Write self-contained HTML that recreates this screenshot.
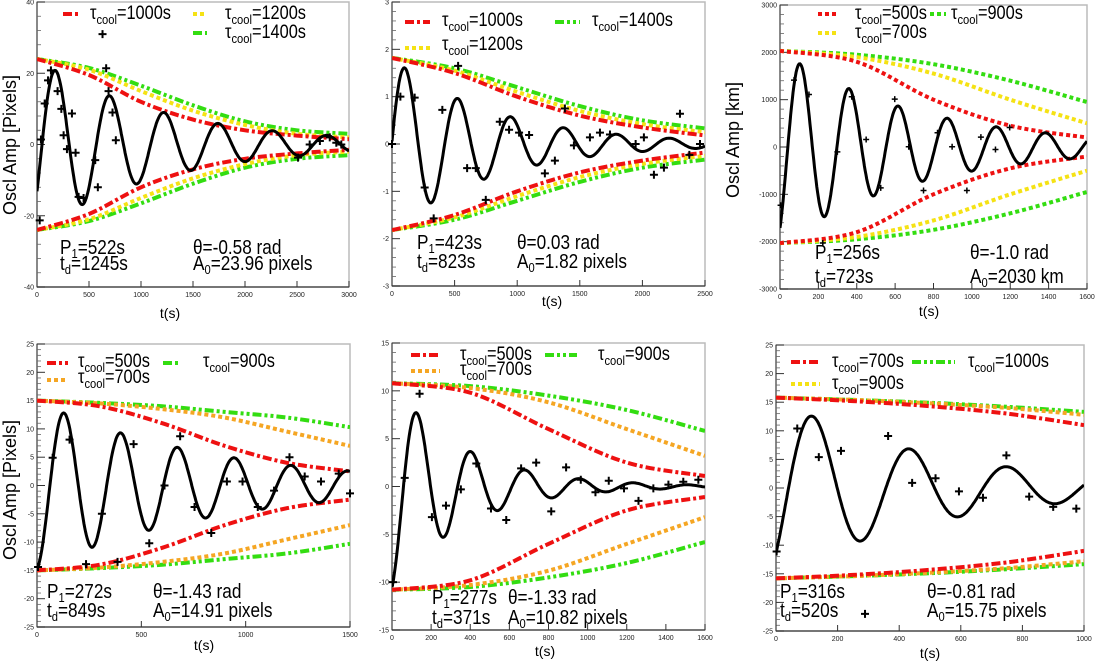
<!DOCTYPE html>
<html><head><meta charset="utf-8"><style>
html,body{margin:0;padding:0;background:#fff;}
svg{display:block;font-family:"Liberation Sans",sans-serif;}
</style></head><body>
<svg id="fig" width="1098" height="663" viewBox="0 0 1098 663" xmlns="http://www.w3.org/2000/svg"></svg>
<script>
// ---------- data ----------
// panel 1
const p1Params = {A0:23.96, td:1245, P:522, th:-0.58};
const p1EnvT = [0,500,1000,1500,2000,2500,3000];
const p1Red = [24,19.5,12,7,4,2.5,1.5];
const p1Yellow = [24,21,15,9.5,5.5,3,2];
const p1Green = [24,21.5,16.5,11,6.5,4,3];
const p1PtsT = [26,38,74,106,134,198,234,256,288,336,371,400,448,560,585,630,665,688,726,758,2510,2622,2720,2815,2878,2926];
const p1PtsY = [-21.3,1.4,11.5,18,20.8,15,10,2.6,-1.3,8.7,-2.3,-14.7,-15,-4.4,-12,31,21.4,15,9,1.2,-3.7,0,1,2,0.5,0];
// panel 2
const p2Params = {A0:1.82, td:823, P:423, th:0.03};
const p2EnvT = [0,500,1000,1500,2000,2500];
const p2Red = [1.82,1.5,1.0,0.6,0.35,0.18];
const p2Yellow = [1.82,1.55,1.1,0.7,0.42,0.25];
const p2Green = [1.82,1.6,1.2,0.8,0.5,0.33];
const p2PtsT = [0,67,181,261,333,402,528,600,669,749,861,935,1015,1095,1221,1301,1381,1453,1581,1661,1741,1946,2012,2092,2172,2300,2375,2460];
const p2PtsY = [0,1.0,0.98,-0.92,-1.57,0.72,1.65,-0.51,-0.51,-1.18,0.47,0.3,0.24,0.19,-0.62,-0.35,0.75,-0.03,0.14,0.24,0.2,0,0.14,-0.65,-0.5,0.64,-0.23,0];
// panel 3
const p3Params = {A0:2030, td:723, P:256, th:-1.0};
const p3EnvT = [0,400,800,1200,1600];
const p3Red = [2030,1800,1000,450,200];
const p3Yellow = [2030,1900,1550,1000,500];
const p3Green = [2030,1950,1750,1400,950];
const p3PtsT = [3,73,151,223,299,374,449,525,598,671,748,821,897,974,1047,1123,1197];
const p3PtsY = [-1230,1414,1110,-2027,-102,1061,159,-864,1012,4,-920,300,4,-920,208,-53,413];
// panel 4
const p4Params = {A0:14.91, td:849, P:272, th:-1.43};
const p4EnvT = [0,300,600,900,1200,1500];
const p4Red = [15,14,11,7,4,2.5];
const p4Orange = [15,14.5,13.5,12,9.5,7];
const p4Green = [15,14.6,14,13,12,10.3];
const p4PtsT = [5,75,156,235,311,386,463,538,611,686,755,835,910,985,1058,1136,1210,1283,1361,1446,1500];
const p4PtsY = [-14.4,4.9,8.1,-13.9,-5,-13.5,7.3,-10.2,0,8.7,-3.8,-8.4,0.7,0.7,-3.8,-0.9,5.0,1.6,0.7,2.1,-1.4];
// panel 5
const p5Params = {A0:10.82, td:371, P:277, th:-1.33};
const p5EnvT = [0,400,800,1200,1600];
const p5Red = [10.8,9.8,6,2.5,1.1];
const p5Orange = [10.8,10.3,8.8,6,3.2];
const p5Green = [10.8,10.5,9.5,8,5.8];
const p5PtsT = [5,65,141,204,276,352,431,506,584,660,737,814,890,965,1040,1108,1186,1260,1336,1413,1489,1566];
const p5PtsY = [-10,0.9,9.7,-3.2,-2,-0.3,2.4,-2.3,-3.5,1.9,2.5,-2.6,2.0,0.7,-0.6,0.6,-0.2,-1.5,-0.2,0.2,0.5,0.7];
// panel 6
const p6Params = {A0:15.75, td:520, P:316, th:-0.81};
const p6EnvT = [0,250,500,750,1000];
const p6Red = [15.8,15.2,14.3,13,11];
const p6Orange = [15.8,15.4,14.8,14,12.8];
const p6Green = [15.8,15.4,14.9,14.2,13.3];
const p6PtsT = [2,69,139,211,289,364,442,518,594,672,748,822,900,975];
const p6PtsY = [-11.1,10.4,5.4,6.5,-22,9.1,0.9,1.7,-0.6,-1.7,5.7,-1.5,-3.3,-3.6];

// tick labels
const p1XTicks=[0,500,1000,1500,2000,2500,3000], p1YTicks=[-40,-20,0,20,40];
const p2XTicks=[0,500,1000,1500,2000,2500], p2YTicks=[-3,-2,-1,0,1,2,3];
const p3XTicks=[0,200,400,600,800,1000,1200,1400,1600], p3YTicks=[-3000,-2000,-1000,0,1000,2000,3000];
const p4XTicks=[0,500,1000,1500], p4YTicks=[-25,-20,-15,-10,-5,0,5,10,15,20,25];
const p5XTicks=[0,200,400,600,800,1000,1200,1400,1600], p5YTicks=[-15,-10,-5,0,5,10,15];
const p6XTicks=[0,200,400,600,800,1000], p6YTicks=[-25,-20,-15,-10,-5,0,5,10,15,20,25];

// ---------- drawing ----------
const NS='http://www.w3.org/2000/svg';
const svg=document.getElementById('fig');
function mk(tag,attrs,parent){const e=document.createElementNS(NS,tag);for(const k in attrs)e.setAttribute(k,attrs[k]);(parent||svg).appendChild(e);return e;}
const STY={
 red:{c:'#ee1111',d:'9 3 3 3'},
 yellow:{c:'#f5e214',d:'4 3'},
 orange:{c:'#f5a623',d:'4 3'},
 green:{c:'#33dd11',d:'9 3 3 3 3 3'}
};
function smoothPath(pts){
 let d='M'+pts[0][0].toFixed(1)+','+pts[0][1].toFixed(1);
 for(let i=0;i<pts.length-1;i++){
  const p0=pts[Math.max(0,i-1)],p1=pts[i],p2=pts[i+1],p3=pts[Math.min(pts.length-1,i+2)];
  const c1=[p1[0]+(p2[0]-p0[0])/6,p1[1]+(p2[1]-p0[1])/6];
  const c2=[p2[0]-(p3[0]-p1[0])/6,p2[1]-(p3[1]-p1[1])/6];
  d+=' C'+c1[0].toFixed(1)+','+c1[1].toFixed(1)+' '+c2[0].toFixed(1)+','+c2[1].toFixed(1)+' '+p2[0].toFixed(1)+','+p2[1].toFixed(1);
 }
 return d;
}
function legendText(g,x,y,label){
 const t=mk('text',{x:0,y:0,'font-size':19,transform:'translate('+x+','+(y+7)+') scale(0.86,1)'},g);
 
 
 t.appendChild(document.createTextNode('τ'));
 const s=mk('tspan',{'font-size':13,dy:5},t);s.textContent='cool';
 const r=mk('tspan',{'font-size':19,dy:-5},t);r.textContent='='+label;
}
function subText(g,x,y,main,sub,rest,name){
 const t=mk('text',{x:0,y:0,'font-size':20,transform:'translate('+x+','+y+') scale(0.86,1)'},g);
 
 
 t.appendChild(document.createTextNode(main));
 const s=mk('tspan',{'font-size':13,dy:4},t);s.textContent=sub;
 const r=mk('tspan',{'font-size':20,dy:-4},t);r.textContent=rest;
}
function panel(cfg){
 const g=mk('g',{});
 
 
 const {x0,x1,y0,y1,xmin,xmax,ymin,ymax}=cfg;
 const X=t=>x0+(t-xmin)/(xmax-xmin)*(x1-x0);
 const Y=v=>y1-(v-ymin)/(ymax-ymin)*(y1-y0);
 const cp='cp'+cfg.name;
 const defs=mk('defs',{},g);const c=mk('clipPath',{id:cp},defs);mk('rect',{x:x0,y:y0,width:x1-x0,height:y1-y0},c);
 const fr=mk('rect',{x:x0,y:y0,width:x1-x0,height:y1-y0,fill:'none',stroke:'#bbb','stroke-width':1.5},g);
 
 
 mk('line',{x1:x0,y1:y0,x2:x0,y2:y1,stroke:'#333','stroke-width':1},g);
 mk('line',{x1:x0,y1:y1,x2:x1,y2:y1,stroke:'#555','stroke-width':1.5},g);
 const yt=cfg.yt;
 for(let i=0;i<yt.length;i++){
  const yy=Y(yt[i]);
  mk('line',{x1:x0,y1:yy,x2:x0+8,y2:yy,stroke:'#333','stroke-width':1},g);
  const tl=mk('text',{x:x0-3,y:yy+2.5,'font-size':7,'text-anchor':'end',fill:'#222'},g);
  
  
  tl.textContent=yt[i];
  if(i<yt.length-1){const step=(yt[i+1]-yt[i])/5;for(let k=1;k<5;k++){const ym=Y(yt[i]+k*step);mk('line',{x1:x0,y1:ym,x2:x0+4,y2:ym,stroke:'#666','stroke-width':0.8},g);}}
 }
 const xt=cfg.xt;
 for(let i=0;i<xt.length;i++){
  const xx=X(xt[i]);
  mk('line',{x1:xx,y1:y1,x2:xx,y2:y1-6,stroke:'#333','stroke-width':1},g);
  const tl=mk('text',{x:xx,y:y1+10,'font-size':7,'text-anchor':'middle',fill:'#222'},g);
  
  
  tl.textContent=xt[i];
 }
 const xl=mk('text',{x:cfg.xlab[0],y:cfg.xlab[1],'font-size':14,'text-anchor':'middle'},g);
 
 
 xl.textContent='t(s)';
 if(cfg.ylab){
  const yl=mk('text',{x:0,y:0,'font-size':18,'text-anchor':'middle',transform:'translate('+cfg.ylab[0]+','+cfg.ylab[1]+') rotate(-90)'},g);
  
  
  yl.textContent=cfg.ylab[2];
 }
 const pg=mk('g',{'clip-path':'url(#'+cp+')'},g);
 cfg.env.forEach(e=>{
  const st=STY[e.style];
  const up=cfg.envT.map((t,i)=>[X(t),Y(e.v[i])]);
  const lo=cfg.envT.map((t,i)=>[X(t),Y(-e.v[i])]);
  [up,lo].forEach((pts,j)=>{
   const p=mk('path',{d:smoothPath(pts),fill:'none',stroke:st.c,'stroke-width':4,'stroke-dasharray':cfg.allDot?'4 3':st.d},pg);
   
   
  });
 });
 const pr=cfg.par;let d='';
 for(let i=0;i<=400;i++){const t=xmin+(xmax-xmin)*i/400;const v=pr.A0*Math.exp(-t/pr.td)*Math.sin(2*Math.PI*t/pr.P+pr.th);d+=(i?'L':'M')+X(t).toFixed(1)+','+Y(v).toFixed(1);}
 const fc=mk('path',{d:d,fill:'none',stroke:'#000','stroke-width':3},pg);
 
 
 const ps=cfg.plusSize||4;
 cfg.pt.forEach((t,i)=>{
  const px=X(t),py=Y(cfg.py[i]);
  const m=mk('path',{d:'M'+(px-ps)+','+py+'H'+(px+ps)+'M'+px+','+(py-ps)+'V'+(py+ps),stroke:'#000','stroke-width':cfg.plusW||2},g);
  
  
 });
 cfg.leg.forEach(l=>{
  const st=STY[l.style];
  const lg=mk('g',{},g);
  
  
  mk('line',{x1:l.lx,y1:l.ly,x2:l.lx2,y2:l.ly,stroke:st.c,'stroke-width':4,'stroke-dasharray':cfg.allDot?'4 3':st.d},lg);
  legendText(lg,l.tx,l.ty,l.label);
 });
 const a=cfg.ann;
 subText(g,a.x1,a.b1,'P','1','='+a.P,'period-label');
 subText(g,a.x1,a.b2,'t','d','='+a.td,'damping-time-label');
 const th=mk('text',{x:0,y:0,'font-size':20,transform:'translate('+a.x2+','+a.b1+') scale(0.86,1)'},g);
 
 
 th.textContent='θ='+a.th;
 subText(g,a.x2,a.b2,'A','0','='+a.A,'amplitude-label');
}

panel({name:'panel-1',x0:37,x1:349,y0:2,y1:287,xmin:0,xmax:3000,ymin:-40,ymax:40,xt:p1XTicks,yt:p1YTicks,
 xlab:[170,318],ylab:[16,145,'Oscl Amp [Pixels]'],envT:p1EnvT,
 env:[{style:'green',v:p1Green},{style:'yellow',v:p1Yellow},{style:'red',v:p1Red}],
 par:p1Params,pt:p1PtsT,py:p1PtsY,
 leg:[{style:'red',lx:63,lx2:78,ly:14,tx:90,ty:12,label:'1000s'},{style:'yellow',lx:193,lx2:207,ly:14,tx:225,ty:12,label:'1200s'},{style:'green',lx:193,lx2:207,ly:33,tx:225,ty:31,label:'1400s'}],
 ann:{x1:60,x2:193,b1:254,b2:270,P:'522s',td:'1245s',th:'-0.58 rad',A:'23.96 pixels'}});

panel({name:'panel-2',x0:392,x1:705,y0:2,y1:286,xmin:0,xmax:2500,ymin:-3,ymax:3,xt:p2XTicks,yt:p2YTicks,
 xlab:[552,306],envT:p2EnvT,
 env:[{style:'green',v:p2Green},{style:'yellow',v:p2Yellow},{style:'red',v:p2Red}],
 par:p2Params,pt:p2PtsT,py:p2PtsY,
 leg:[{style:'red',lx:405,lx2:430,ly:22,tx:442,ty:19,label:'1000s'},{style:'yellow',lx:405,lx2:430,ly:48,tx:442,ty:43,label:'1200s'},{style:'green',lx:555,lx2:580,ly:22,tx:592,ty:19,label:'1400s'}],
 ann:{x1:417,x2:517,b1:249,b2:268,P:'423s',td:'823s',th:'0.03 rad',A:'1.82 pixels'}});

panel({name:'panel-3',x0:780,x1:1087,y0:5,y1:289,xmin:0,xmax:1600,ymin:-3000,ymax:3000,xt:p3XTicks,yt:p3YTicks,
 xlab:[929,316],ylab:[739,140,'Oscl Amp [km]'],envT:p3EnvT,allDot:true,plusSize:3,plusW:1.5,
 env:[{style:'green',v:p3Green},{style:'yellow',v:p3Yellow},{style:'red',v:p3Red}],
 par:p3Params,pt:p3PtsT,py:p3PtsY,
 leg:[{style:'red',lx:818,lx2:836,ly:14,tx:855,ty:12,label:'500s'},{style:'green',lx:930,lx2:946,ly:14,tx:951,ty:12,label:'900s'},{style:'yellow',lx:818,lx2:836,ly:33,tx:855,ty:31,label:'700s'}],
 ann:{x1:815,x2:970,b1:259,b2:283,P:'256s',td:'723s',th:'-1.0 rad',A:'2030 km'}});

panel({name:'panel-4',x0:37,x1:350,y0:344,y1:627,xmin:0,xmax:1500,ymin:-25,ymax:25,xt:p4XTicks,yt:p4YTicks,
 xlab:[204,650],ylab:[16,490,'Oscl Amp [Pixels]'],envT:p4EnvT,
 env:[{style:'green',v:p4Green},{style:'orange',v:p4Orange},{style:'red',v:p4Red}],
 par:p4Params,pt:p4PtsT,py:p4PtsY,
 leg:[{style:'red',lx:47,lx2:68,ly:363,tx:78,ty:360,label:'500s'},{style:'orange',lx:47,lx2:68,ly:380,tx:78,ty:376,label:'700s'},{style:'green',lx:163,lx2:178,ly:363,tx:203,ty:360,label:'900s'}],
 ann:{x1:47,x2:153,b1:598,b2:617,P:'272s',td:'849s',th:'-1.43 rad',A:'14.91 pixels'}});

panel({name:'panel-5',x0:392,x1:705,y0:343,y1:630,xmin:0,xmax:1600,ymin:-15,ymax:15,xt:p5XTicks,yt:p5YTicks,
 xlab:[545,656],envT:p5EnvT,
 env:[{style:'green',v:p5Green},{style:'orange',v:p5Orange},{style:'red',v:p5Red}],
 par:p5Params,pt:p5PtsT,py:p5PtsY,
 leg:[{style:'red',lx:411,lx2:440,ly:355,tx:460,ty:353,label:'500s'},{style:'orange',lx:411,lx2:440,ly:371,tx:460,ty:368,label:'700s'},{style:'green',lx:545,lx2:577,ly:355,tx:598,ty:353,label:'900s'}],
 ann:{x1:432,x2:508,b1:604,b2:624,P:'277s',td:'371s',th:'-1.33 rad',A:'10.82 pixels'}});

panel({name:'panel-6',x0:776,x1:1084,y0:345,y1:631,xmin:0,xmax:1000,ymin:-25,ymax:25,xt:p6XTicks,yt:p6YTicks,
 xlab:[930,658],envT:p6EnvT,
 env:[{style:'green',v:p6Green},{style:'orange',v:p6Orange},{style:'red',v:p6Red}],
 par:p6Params,pt:p6PtsT,py:p6PtsY,
 leg:[{style:'red',lx:791,lx2:820,ly:362,tx:832,ty:360,label:'700s'},{style:'green',lx:912,lx2:955,ly:362,tx:968,ty:360,label:'1000s'},{style:'yellow',lx:791,lx2:820,ly:384,tx:832,ty:382,label:'900s'}],
 ann:{x1:780,x2:927,b1:598,b2:617,P:'316s',td:'520s',th:'-0.81 rad',A:'15.75 pixels'}});
</script>
</body></html>
